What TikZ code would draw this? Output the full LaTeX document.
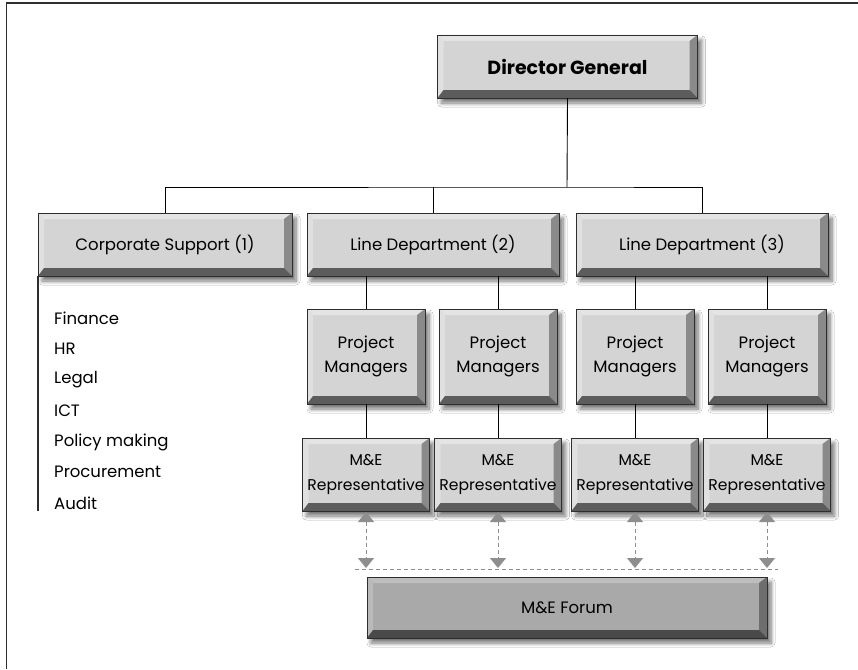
\documentclass[tikz,border=0pt]{standalone}
\usepackage{fontspec}
\setmainfont{Poppins}
\usetikzlibrary{arrows.meta,shadows.blur}
\definecolor{boxfill}{HTML}{D4D4D4}
\definecolor{btop}{HTML}{E4E4E4}
\definecolor{bleft}{HTML}{E0E0E0}
\definecolor{bright}{HTML}{8A8A8A}
\definecolor{bbottom}{HTML}{5C5C5C}
\definecolor{ffill}{HTML}{A9A9A9}
\definecolor{ftop}{HTML}{BEBEBE}
\definecolor{fleft}{HTML}{BABABA}
\definecolor{fright}{HTML}{6E6E6E}
\definecolor{fbottom}{HTML}{4A4A4A}
\definecolor{outl}{HTML}{2E2E2E}
\definecolor{dashgray}{HTML}{8E8E8E}
\newcommand\bevelfill[5]{%
  \fill[#2] (#1.north west) -- (#1.north east) -- ([xshift=-8pt,yshift=-6pt]#1.north east) -- ([xshift=6pt,yshift=-6pt]#1.north west) -- cycle;
  \fill[#3] (#1.north west) -- ([xshift=6pt,yshift=-6pt]#1.north west) -- ([xshift=6pt,yshift=8pt]#1.south west) -- (#1.south west) -- cycle;
  \fill[#4] (#1.north east) -- (#1.south east) -- ([xshift=-8pt,yshift=8pt]#1.south east) -- ([xshift=-8pt,yshift=-6pt]#1.north east) -- cycle;
  \fill[#5] (#1.south west) -- ([xshift=6pt,yshift=8pt]#1.south west) -- ([xshift=-8pt,yshift=8pt]#1.south east) -- (#1.south east) -- cycle;
}
\tikzset{
  bev/.style n args={4}{path picture={\bevelfill{path picture bounding box}{#1}{#2}{#3}{#4}}},
  box/.style={fill=boxfill, draw=outl, line width=0.8pt, inner sep=0pt, outer sep=0pt, align=center,
    font=\fontsize{16.5}{24}\selectfont,
    bev={btop}{bleft}{bright}{bbottom},
    blur shadow={shadow xshift=4pt, shadow yshift=-5pt, shadow blur radius=4pt, shadow blur steps=8, shadow opacity=55}},
  forumbox/.style={box, fill=ffill, bev={ftop}{fleft}{fright}{fbottom}},
  conn/.style={draw=black, line width=0.9pt},
  listitem/.style={anchor=west, inner sep=0pt, font=\fontsize{16.5}{20}\selectfont},
  dasharrow/.style={draw=dashgray, line width=1pt, dash pattern=on 4pt off 3pt,
    {Triangle[width=16pt,length=10pt]}-{Triangle[width=16pt,length=10pt]}},
  dashline/.style={draw=dashgray, line width=1pt, dash pattern=on 4pt off 3pt},
}
\begin{document}
\begin{tikzpicture}[x=1pt,y=-1pt]
\useasboundingbox (0,0) rectangle (858,669);
\fill[white] (0,0) rectangle (858,669);
% frame
\draw[outl,line width=1.5pt] (6.5,669) -- (6.5,3) -- (858,3);

% boxes
\node[box, minimum width=260pt, minimum height=63pt, font=\fontsize{19}{22}\selectfont\bfseries] (dg) at (567.5,66.5) {Director General};
\node[box, minimum width=254pt, minimum height=63pt] (cs) at (165,244.5) {Corporate Support (1)};
\node[box, minimum width=252pt, minimum height=63pt] (ld2) at (433,244.5) {Line Department (2)};
\node[box, minimum width=252pt, minimum height=63pt] (ld3) at (702,244.5) {Line Department (3)};
\foreach \n/\x in {1/366,2/498,3/635,4/767}{
  \node[box, minimum width=118pt, minimum height=95pt] (pm\n) at (\x,356.5) {Project\\Managers};
  \node[box, minimum width=127pt, minimum height=73pt, font=\fontsize{15.6}{25}\selectfont] (me\n) at (\x,474.5) {M\&E\\Representative};
}
\node[forumbox, minimum width=400pt, minimum height=61pt] (forum) at (567,607.5) {M\&E Forum};

% connectors
\coordinate (bus) at (567,187);
\draw[conn] (dg.south) -- (bus);
\draw[conn] (cs.north) |- (bus) -| (ld3.north);
\draw[conn] (ld2.north) -- (ld2.north |- bus);
\foreach \n/\l in {1/ld2,2/ld2,3/ld3,4/ld3}{
  \draw[conn] (pm\n.north) -- (pm\n.north |- \l.south);
  \draw[conn] (pm\n.south) -- (me\n.north);
}

% corporate support list
\coordinate (listend) at (38,511);
\draw[outl,line width=1.3pt] (cs.south west) -- (listend);
\node[listitem] (l1) at (54,318) {Finance};
\node[listitem] (l2) at (54,349) {HR};
\node[listitem] (l3) at (54,380) {Legal};
\node[listitem] (l4) at (54,411) {ICT};
\node[listitem] (l5) at (54,442) {Policy making};
\node[listitem] (l6) at (54,472) {Procurement};
\node[listitem] (l7) at (54,503) {Audit};

% dashed links to forum
\coordinate (dl) at (355,569);
\coordinate (dr) at (778,569);
\draw[dashline] (dl) -- (dr);
\foreach \n in {1,2,3,4}{
  \draw[dasharrow] ([yshift=-1pt]me\n.south) -- ([yshift=1pt]me\n.south |- dl);
}
\end{tikzpicture}
\end{document}
